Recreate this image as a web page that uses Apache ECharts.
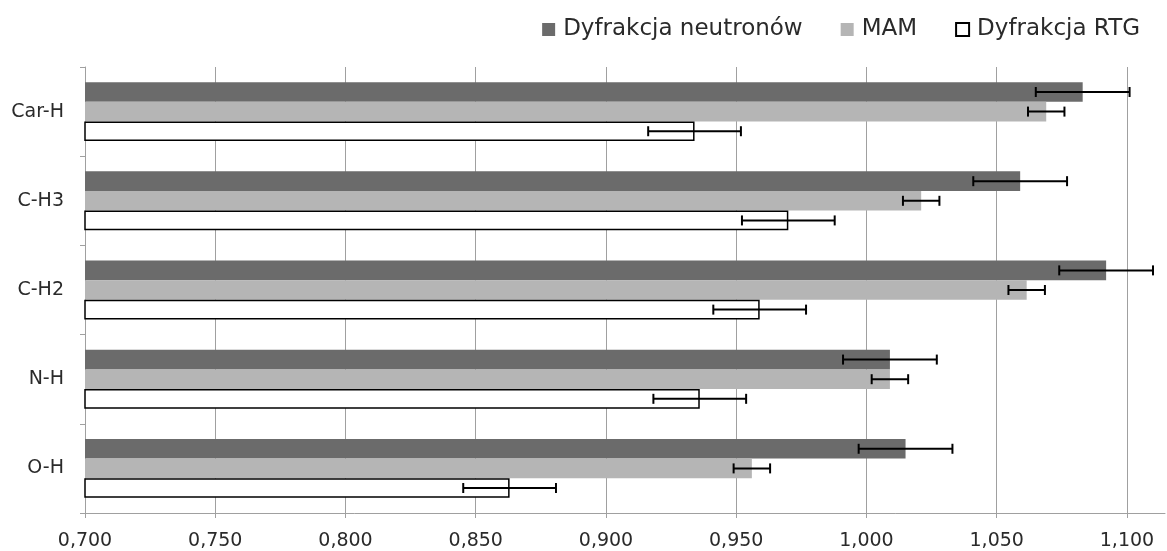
<!DOCTYPE html>
<html lang="pl" style="height: 100%">
<head>
<meta charset="utf-8">
<title>Długości wiązań X-H</title>
</head>
<body style="height: 100%; margin: 0; background: #fff">
<div id="container" style="height: 100%"></div>

<script type="text/javascript" src="https://cdn.jsdelivr.net/npm/echarts/dist/echarts.min.js"></script>

<script type="text/javascript">
var categories = ['Car-H', 'C-H3', 'C-H2', 'N-H', 'O-H'];
var seriesNames = ['Dyfrakcja neutronów', 'MAM', 'Dyfrakcja RTG'];

// wartości i niepewności
var neutron = [1.083, 1.059, 1.092, 1.009, 1.015];
var neutronErr = [0.018, 0.018, 0.018, 0.018, 0.018];
var mam = [1.069, 1.021, 1.0615, 1.009, 0.956];
var mamErr = [0.007, 0.007, 0.007, 0.007, 0.007];
var rtg = [0.934, 0.970, 0.959, 0.936, 0.863];
var rtgErr = [0.0178, 0.0178, 0.0178, 0.0178, 0.0178];

var xMin = 0.7;
var xMax = 1.1146;
var xStep = 0.05;

var dom = document.getElementById('container');
var myChart = echarts.init(dom);
var option;

var gapRatio = 0.34;

function errorData(values, errs) {
  return values.map(function (v, i) {
    return [i, v - errs[i], v + errs[i]];
  });
}

function errorSeries(name, values, errs, slot) {
  return {
    name: name + ' err',
    type: 'custom',
    z: 10,
    encode: { x: [1, 2], y: 0 },
    data: errorData(values, errs),
    renderItem: function (params, api) {
      var cat = api.value(0);
      var lo = api.coord([api.value(1), cat]);
      var hi = api.coord([api.value(2), cat]);
      var band = api.size([0, 1])[1];
      var bw = band * (1 - gapRatio) / 3;
      var y = lo[1] + (slot - 1) * bw;
      var cap = 5;
      var st = { stroke: '#000', lineWidth: 2 };
      return {
        type: 'group',
        children: [
          { type: 'line', shape: { x1: lo[0], y1: y, x2: hi[0], y2: y }, style: st },
          { type: 'line', shape: { x1: lo[0], y1: y - cap, x2: lo[0], y2: y + cap }, style: st },
          { type: 'line', shape: { x1: hi[0], y1: y - cap, x2: hi[0], y2: y + cap }, style: st }
        ]
      };
    }
  };
}

option = {
  animation: false,
  textStyle: { fontFamily: 'DejaVu Sans' },
  legend: {
    data: seriesNames,
    right: 22,
    top: 13,
    icon: 'rect',
    itemWidth: 13,
    itemHeight: 13,
    itemGap: 38,
    textStyle: { fontSize: 23, color: '#2a2a2a', padding: [0, 0, 0, 3] }
  },
  grid: {
    left: 85,
    right: 2,
    top: 67,
    bottom: 38
  },
  xAxis: {
    type: 'value',
    min: xMin,
    max: xMax,
    interval: xStep,
    axisLine: { show: true, lineStyle: { color: '#a0a0a0', width: 1 } },
    axisTick: { show: true, length: 5, lineStyle: { color: '#a0a0a0' } },
    axisLabel: {
      fontSize: 19,
      color: '#2a2a2a',
      margin: 19,
      showMaxLabel: false,
      formatter: function (v) {
        return v.toFixed(3).replace('.', ',');
      }
    },
    splitLine: { show: true, showMaxLine: false, lineStyle: { color: '#a0a0a0', width: 1 } }
  },
  yAxis: {
    type: 'category',
    inverse: true,
    data: categories,
    axisLine: { show: true, lineStyle: { color: '#a0a0a0', width: 1 } },
    axisTick: { show: true, length: 5, lineStyle: { color: '#a0a0a0' } },
    axisLabel: { fontSize: 19, color: '#2a2a2a', margin: 21 }
  },
  series: [
    {
      name: seriesNames[0],
      type: 'bar',
      data: neutron,
      barGap: '0%',
      barCategoryGap: (gapRatio * 100) + '%',
      itemStyle: { color: '#6b6b6b' }
    },
    {
      name: seriesNames[1],
      type: 'bar',
      data: mam,
      itemStyle: { color: '#b5b5b5' }
    },
    {
      name: seriesNames[2],
      type: 'bar',
      data: rtg,
      itemStyle: { color: '#ffffff', borderColor: '#000', borderWidth: 1.5 }
    },
    errorSeries(seriesNames[0], neutron, neutronErr, 0),
    errorSeries(seriesNames[1], mam, mamErr, 1),
    errorSeries(seriesNames[2], rtg, rtgErr, 2)
  ]
};

if (option && typeof option === 'object') {
  myChart.setOption(option);
}

window.addEventListener('resize', myChart.resize);
</script>
</body>
</html>
